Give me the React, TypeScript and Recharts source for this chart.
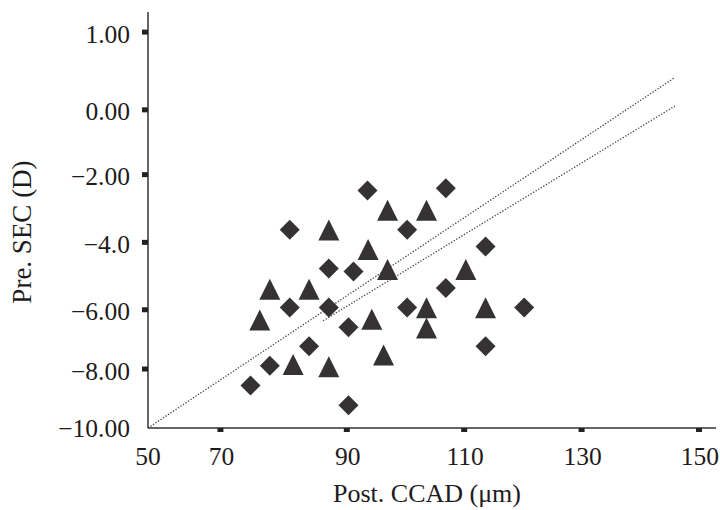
import React from 'react';
import { ScatterChart, Scatter, XAxis, YAxis, ReferenceLine } from 'recharts';

// Group A (diamonds)
const diamondX = [93.53, 106.87, 80.28, 100.28, 113.64, 86.93, 91.14, 106.87, 80.28, 86.93, 100.28, 120.22, 90.29, 83.57, 113.64, 76.88, 73.59, 90.29];
const diamondY = [-2.49, -2.42, -3.7, -3.7, -4.22, -4.9, -4.99, -5.5, -6.1, -6.1, -6.1, -6.1, -6.71, -7.3, -7.3, -7.9, -8.51, -9.12];

// Group B (triangles)
const triangleX = [96.94, 103.58, 86.93, 93.63, 96.94, 110.28, 76.88, 83.57, 103.58, 113.64, 75.17, 94.26, 103.58, 80.85, 86.93, 96.26];
const triangleY = [-3.1, -3.1, -3.71, -4.31, -4.93, -4.93, -5.54, -5.54, -6.11, -6.11, -6.49, -6.46, -6.73, -7.86, -7.93, -7.57];

// Fit lines (end points)
const fitUpperX = [56.13, 145.91];
const fitUpperY = [-9.82, 1.0];
const fitLowerX = [85.96, 145.91];
const fitLowerY = [-6.51, 0.12];

// Axes
const xDomain = [56.13, 152.9];
const xTickValues = [56.13, 68.47, 90, 110, 130, 150];
const xTickLabels = ['50', '70', '90', '110', '130', '150'];
const yDomain = [-9.82, 3.02];
const yTickValues = [-9.82, -8, -6.17, -4.09, -2, 0, 2.4];
const yTickLabels = ['\u221210.00', '\u22128.00', '\u22126.00', '\u22124.0', '\u22122.00', '0.00', '1.00'];

const diamonds = diamondX.map((x, i) => ({ x, y: diamondY[i] }));
const triangles = triangleX.map((x, i) => ({ x, y: triangleY[i] }));

const FONT = '"Liberation Serif", "Times New Roman", serif';
const TEXT = '#1e1b1c';
const MARK = '#353233';

const findIdx = (arr: number[], v: number) => arr.findIndex((a) => Math.abs(a - v) < 1e-6);

const XTick = (props: any) => {
  const { x, y, payload } = props;
  const idx = findIdx(xTickValues, payload.value);
  return (
    <g>
      {idx > 0 && <rect x={x - 3} y={y} width={6} height={4} fill="#222" />}
      <text x={idx === 0 ? x : x + 1} y={y + 37} textAnchor="middle" fontSize={25.5} fontFamily={FONT} fill={TEXT}>
        {xTickLabels[idx]}
      </text>
    </g>
  );
};

const YTick = (props: any) => {
  const { x, y, payload } = props;
  const idx = findIdx(yTickValues, payload.value);
  return (
    <g>
      {idx > 0 && <rect x={x - 6} y={y - 2.5} width={6} height={5} fill="#222" />}
      <text x={x - 18} y={y + (idx === 0 ? 9 : 10.5)} textAnchor="end" fontSize={25.5} fontFamily={FONT} fill={TEXT}>
        {yTickLabels[idx]}
      </text>
    </g>
  );
};

const Diamond = (props: any) => {
  const { cx, cy } = props;
  const r = 10;
  return <polygon points={`${cx},${cy - r} ${cx + r},${cy} ${cx},${cy + r} ${cx - r},${cy}`} fill={MARK} />;
};

const Triangle = (props: any) => {
  const { cx, cy } = props;
  const h = 10.5;
  return <polygon points={`${cx},${cy - h} ${cx + h},${cy + h} ${cx - h},${cy + h}`} fill={MARK} />;
};

const XLabel = (props: any) => {
  const { viewBox } = props;
  return (
    <text x={viewBox.x + viewBox.width / 2 - 5} y={502} textAnchor="middle" fontSize={26} fontFamily={FONT} fill={TEXT}>
      Post. CCAD (μm)
    </text>
  );
};

const YLabel = () => (
  <text x={31} y={232} transform="rotate(-90 31 232)" textAnchor="middle" fontSize={27} fontFamily={FONT} fill={TEXT}>
    Pre. SEC (D)
  </text>
);

export default function App() {
  return (
    <div style={{ position: 'absolute', left: 0, top: 0, width: 720, height: 510, background: '#fff' }}>
      <ScatterChart width={720} height={510} margin={{ top: 12, right: 4, bottom: 0, left: 0 }}>
        <XAxis
          type="number"
          dataKey="x"
          domain={xDomain}
          ticks={xTickValues}
          interval={0}
          allowDataOverflow
          height={82}
          tickSize={0}
          tickMargin={0}
          tickLine={false}
          axisLine={{ stroke: '#333', strokeWidth: 1.5 }}
          tick={<XTick />}
          label={<XLabel />}
        />
        <YAxis
          type="number"
          dataKey="y"
          domain={yDomain}
          ticks={yTickValues}
          interval={0}
          allowDataOverflow
          width={148}
          tickSize={0}
          tickMargin={0}
          tickLine={false}
          axisLine={{ stroke: '#333', strokeWidth: 1.5 }}
          tick={<YTick />}
          label={<YLabel />}
        />
        <ReferenceLine
          segment={[{ x: fitUpperX[0], y: fitUpperY[0] }, { x: fitUpperX[1], y: fitUpperY[1] }]}
          stroke="#444"
          strokeWidth={1.3}
          strokeDasharray="1.3 1.7"
          ifOverflow="visible"
        />
        <ReferenceLine
          segment={[{ x: fitLowerX[0], y: fitLowerY[0] }, { x: fitLowerX[1], y: fitLowerY[1] }]}
          stroke="#444"
          strokeWidth={1.3}
          strokeDasharray="1.3 1.7"
          ifOverflow="visible"
        />
        <Scatter data={diamonds} shape={<Diamond />} isAnimationActive={false} />
        <Scatter data={triangles} shape={<Triangle />} isAnimationActive={false} />
      </ScatterChart>
    </div>
  );
}
